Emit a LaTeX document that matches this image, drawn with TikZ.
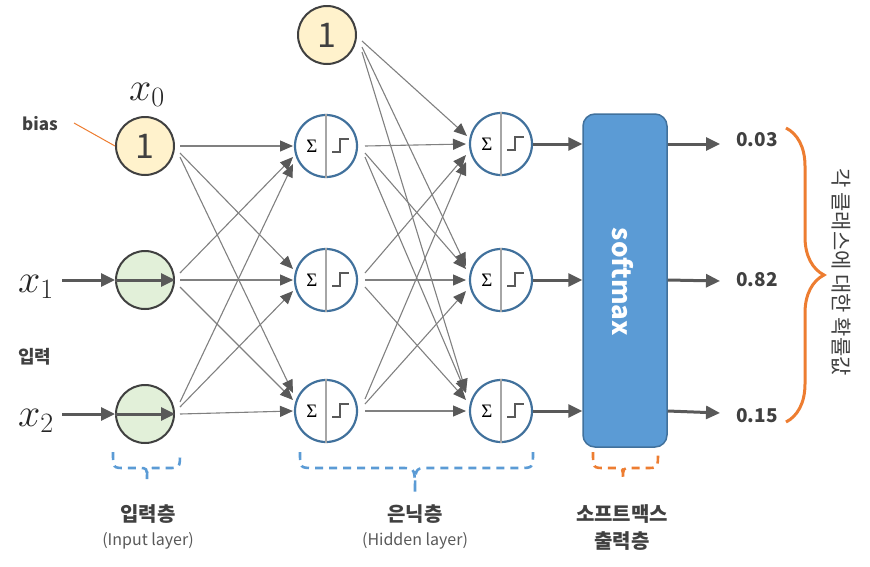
\documentclass[tikz,border=0pt]{standalone}
\usepackage{fix-cm}
\usepackage{fontspec}
\setmainfont{Noto Sans CJK KR}
\newfontfamily\sigfont{Liberation Serif}
\usetikzlibrary{arrows.meta,calc,decorations.pathreplacing}
\definecolor{dk}{HTML}{595959}
\definecolor{ln}{HTML}{808080}
\definecolor{txt}{HTML}{404040}
\definecolor{mtxt}{HTML}{262626}
\definecolor{biasfill}{HTML}{FFF2CC}
\definecolor{infill}{HTML}{E2F0D9}
\definecolor{hblue}{HTML}{41719C}
\definecolor{smfill}{HTML}{5B9BD5}
\definecolor{org}{HTML}{ED7D31}
\begin{document}
\begin{tikzpicture}[x=1pt,y=-1pt,
  biasnode/.style={circle,draw=txt,line width=2pt,fill=biasfill,minimum size=58pt,inner sep=0pt,font=\fontsize{34}{34}\selectfont,text=txt},
  innode/.style={circle,draw=txt,line width=2pt,fill=infill,minimum size=58pt,inner sep=0pt},
  hnode/.style={circle,draw=hblue,line width=2.2pt,fill=white,minimum size=62pt,inner sep=0pt},
  conn/.style={draw=ln,line width=1.1pt,-{Triangle[length=13pt,width=11pt,color=dk]}},
  thickarrow/.style={draw=dk,line width=3pt,-{Triangle[length=14pt,width=13pt]}},
  lab/.style={font=\fontsize{20}{22}\selectfont\bfseries,text=txt},
  sublab/.style={font=\fontsize{16}{18}\selectfont,text=dk},
  dbrace/.style={line width=2.6pt,dash pattern=on 8pt off 6pt,line cap=butt},
  mathlab/.style={font=\fontsize{40}{40}\selectfont,text=mtxt}
]
\useasboundingbox (0,0) rectangle (870,566);

% input layer
\node[biasnode] (i0) at (145,146) {1};
\node[innode] (i1) at (145,280) {};
\node[innode] (i2) at (145,414) {};
\node[biasnode] (t) at (327,35) {1};

% hidden layers
\foreach \n/\x/\y in {a0/326/146,a1/326/280,a2/326/411,b0/501/144,b1/501/280,b2/501/411}{
  \node[hnode] (\n) at (\x,\y) {};
  \draw[color=gray!70,line width=1.4pt] (\n.north) -- (\n.south);
  \node[font=\sigfont\fontsize{19}{19}\selectfont,text=black] at ($(\n)+(-14,0)$) {Σ};
  \draw[color=dk,line width=1.1pt] ($(\n)+(6,6)$) -- ++(8,0) -- ++(0,-13) -- ++(9,0);
}

% softmax box
\node[draw=hblue,line width=1.5pt,fill=smfill,rounded corners=12pt,minimum width=84pt,minimum height=333pt] (sm) at (625,280.5) {};
\node[rotate=-90,font=\fontsize{26}{26}\selectfont\bfseries,text=white] (smt) at (623,282) {softmax};

% labels
\node[font=\fontsize{17}{20}\selectfont\bfseries,text=txt] (bias) at (40,124) {bias};
\coordinate (bl) at (74,123);
\draw[org,line width=1pt] (bl) -- (i0.west);
\node[mathlab] (x0) at (147,95) {$x_0$};
\node[mathlab] (x1) at (36,287) {$x_1$};
\node[mathlab] (x2) at (36,421) {$x_2$};
\node[font=\fontsize{18}{20}\selectfont\bfseries,text=txt] (ip) at (35,357) {입력};

% input arrows
\coordinate (x1s) at (62,280);
\coordinate (x2s) at (62,414);
\draw[thickarrow] (x1s) -- (i1.west);
\draw[thickarrow] (i1.west) -- (i1.east);
\draw[thickarrow] (x2s) -- (i2.west);
\draw[thickarrow] (i2.west) -- (i2.east);

% input -> hidden1, hidden1 -> hidden2
\foreach \s in {0,1,2}{
  \foreach \t in {0,1,2}{
    \pgfmathtruncatemacro\d{\t-\s+2}
    \pgfmathsetmacro\sd{{-12,-7,0,7,11}[\d]}
    \pgfmathsetmacro\ed{{18,11,0,-11,-18}[\d]}
    \draw[conn] ($(i\s)+(35,\sd)$) -- ($(a\t)+(-33,\ed)$);
    \draw[conn] ($(a\s)+(39,\sd)$) -- ($(b\t)+(-35,\ed)$);
  }
}
% top bias -> hidden2
\draw[conn] ($(t)+(35,6)$) -- ($(b0)+(-34,-8)$);
\draw[conn] ($(t)+(35,12)$) -- ($(b1)+(-35,-14)$);
\draw[conn] ($(t)+(35,17)$) -- ($(b2)+(-35,-19)$);

% hidden2 -> softmax
\foreach \i in {0,1,2}{
  \draw[thickarrow] (b\i.east) -- (b\i -| sm.west);
}
% outputs
\node[font=\fontsize{19}{20}\selectfont\bfseries,text=txt] (o0) at (757,140) {0.03};
\node[font=\fontsize{19}{20}\selectfont\bfseries,text=txt] (o1) at (757,280) {0.82};
\node[font=\fontsize{19}{20}\selectfont\bfseries,text=txt] (o2) at (757,416) {0.15};
\coordinate (e0) at (720,144);
\coordinate (e1) at (720,281);
\coordinate (e2) at (720,413);
\draw[thickarrow] (b0 -| sm.east) -- (e0);
\draw[thickarrow] (b1 -| sm.east) -- (e1);
\draw[thickarrow] (b2 -| sm.east) -- (e2);

% orange brace
\draw[org,line width=3pt,decorate,decoration={brace,amplitude=38pt,aspect=0.5}] (786,128) -- (786,422);
\node[rotate=-90,font=\fontsize{21}{22}\selectfont,text=txt] (prob) at (841,272) {각 클래스에\ 대한\ 확률값};

% dashed braces
\draw[dbrace,smfill] (113,452) .. controls (113,468) and (113,468) .. (125,468) -- (139,468) .. controls (147,468) and (147,468) .. (147,479)
  .. controls (147,468) and (147,468) .. (155,468) -- (168,468) .. controls (180,468) and (180,468) .. (180,452);
\draw[dbrace,smfill] (300,452) .. controls (300,468) and (300,468) .. (314,468) -- (404,468) .. controls (415,468) and (415,470) .. (415,493)
  .. controls (415,470) and (415,468) .. (426,468) -- (519,468) .. controls (533,468) and (533,468) .. (533,452);
\draw[dbrace,org] (593,452) .. controls (593,468) and (593,468) .. (605,468) -- (615,468) .. controls (623,468) and (623,468) .. (623,479)
  .. controls (623,468) and (623,468) .. (631,468) -- (646,468) .. controls (658,468) and (658,468) .. (658,452);

% layer labels
\node[lab] (l1) at (148,514) {입력층};
\node[sublab] (l1s) at (148,541) {(Input layer)};
\node[lab] (l2) at (415,514) {은닉층};
\node[sublab] (l2s) at (415,541) {(Hidden layer)};
\node[lab] (l3) at (622,514) {소프트맥스};
\node[lab] (l3s) at (622,541) {출력층};
\end{tikzpicture}
\end{document}
